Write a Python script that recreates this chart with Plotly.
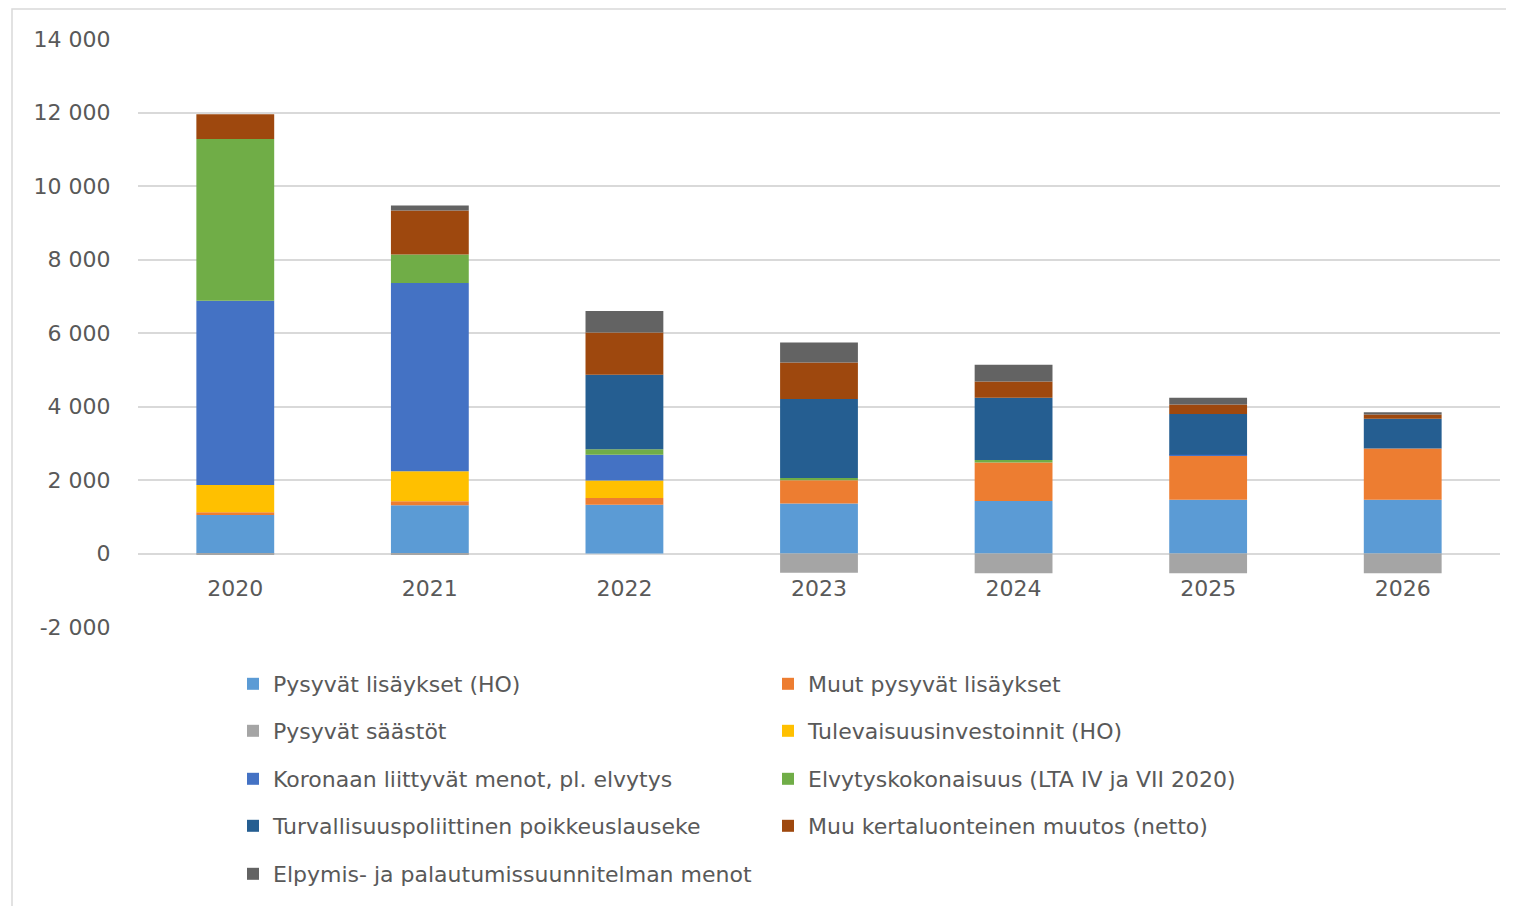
import plotly.graph_objects as go

years = ["2020", "2021", "2022", "2023", "2024", "2025", "2026"]

series_names = [
    "Pysyvät lisäykset (HO)",
    "Muut pysyvät lisäykset",
    "Pysyvät säästöt",
    "Tulevaisuusinvestoinnit (HO)",
    "Koronaan liittyvät menot, pl. elvytys",
    "Elvytyskokonaisuus (LTA IV ja VII 2020)",
    "Turvallisuuspoliittinen poikkeuslauseke",
    "Muu kertaluonteinen muutos (netto)",
    "Elpymis- ja palautumissuunnitelman menot",
]

perm_ho = [1050, 1315, 1327, 1363, 1427, 1464, 1464]
other_perm = [70, 108, 180, 632, 1046, 1200, 1391]
savings = [-40, -40, 0, -523, -536, -536, -536]
future_inv = [744, 816, 479, 0, 0, 0, 0]
corona = [5013, 5123, 704, 0, 0, 20, 0]
recovery_pkg = [4405, 771, 144, 60, 72, 0, 0]
security = [0, 0, 2031, 2146, 1691, 1109, 809]
other_onetime = [670, 1197, 1146, 993, 445, 264, 118]
rrf = [0, 136, 587, 550, 455, 182, 64]

series_values = [perm_ho, other_perm, savings, future_inv, corona,
                 recovery_pkg, security, other_onetime, rrf]

colors = ["#5B9BD5", "#ED7D31", "#A5A5A5", "#FFC000", "#4472C4",
          "#70AD47", "#255E91", "#9E480E", "#636363"]

y_tickvals = [-2000, 0, 2000, 4000, 6000, 8000, 10000, 12000, 14000]
y_ticktext = ["-2 000", "0", "2 000", "4 000", "6 000", "8 000",
              "10 000", "12 000", "14 000"]

FONT = "DejaVu Sans"
TXT = "#595959"
FS = 22

# page has an 8px body margin; size the figure so it fills the window
OFF = 8
W, H = 1514 - OFF, 906 - OFF
ML, MR, MT, MB = 138 - OFF, 14, 39 - OFF, 278
PW = W - ML - MR
PH = H - MT - MB

def px_to_paper_x(px):
    return (px - OFF - ML) / PW

def px_to_paper_y(py):
    return (H - MB - (py - OFF)) / PH

fig = go.Figure()

legend_ids = ["legend"] + [f"legend{i}" for i in range(2, 10)]
row_y = [684, 731, 779, 826, 874]
col_x = [233, 768]

for i, (name, vals, col) in enumerate(zip(series_names, series_values, colors)):
    fig.add_trace(go.Bar(
        x=years, y=vals, name=name,
        marker=dict(color=col, line=dict(width=0)),
        legend=legend_ids[i],
    ))

layout_legends = {}
for i, lid in enumerate(legend_ids):
    r, c = divmod(i, 2)
    layout_legends[lid] = dict(
        x=px_to_paper_x(col_x[c]), y=px_to_paper_y(row_y[r]),
        xanchor="left", yanchor="middle",
        orientation="h",
        bgcolor="rgba(0,0,0,0)",
        font=dict(family=FONT, size=FS, color=TXT),
        borderwidth=0,
    )

fig.update_layout(
    width=W, height=H,
    margin=dict(l=ML, r=MR, t=MT, b=MB),
    barmode="relative",
    bargap=0.6,
    plot_bgcolor="white",
    paper_bgcolor="white",
    font=dict(family=FONT, size=FS, color=TXT),
    showlegend=True,
    xaxis=dict(
        type="category",
        anchor="free",
        position=2000 / 16000,
        showgrid=False,
        showline=False,
        ticks="outside",
        ticklen=15,
        tickcolor="rgba(0,0,0,0)",
        tickfont=dict(family=FONT, size=FS, color=TXT),
    ),
    yaxis=dict(
        range=[-2000, 14000],
        tickvals=y_tickvals,
        ticktext=y_ticktext,
        showgrid=True,
        gridcolor="#D9D9D9",
        gridwidth=2,
        zeroline=True,
        zerolinecolor="#D9D9D9",
        zerolinewidth=2,
        showline=False,
        ticks="outside",
        ticklen=22,
        tickcolor="rgba(0,0,0,0)",
        tickfont=dict(family=FONT, size=FS, color=TXT),
    ),
    shapes=[dict(
        type="rect", xref="paper", yref="paper",
        x0=px_to_paper_x(12), x1=px_to_paper_x(1513),
        y0=px_to_paper_y(915), y1=px_to_paper_y(9),
        line=dict(color="#D9D9D9", width=1.5),
        fillcolor="rgba(0,0,0,0)", layer="below",
    )],
    **layout_legends,
)

fig.write_html("out.html")
